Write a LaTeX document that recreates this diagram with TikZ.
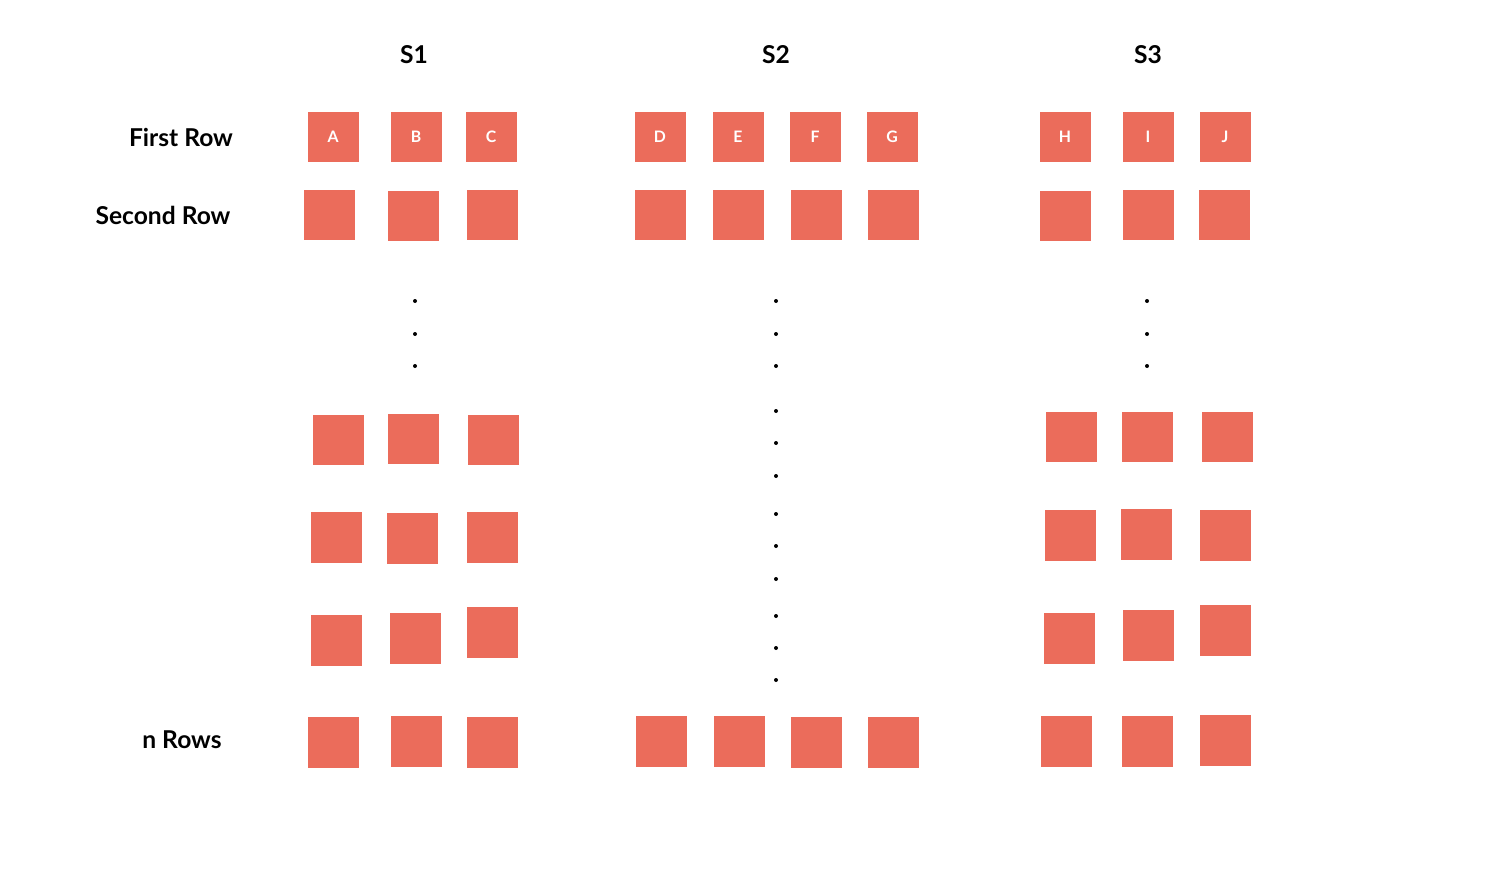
\documentclass[tikz,border=0pt]{standalone}
\usepackage{fontspec}
\setmainfont{Lato}
\usepackage{tikz}
\usepackage{xcolor}
\definecolor{coral}{RGB}{235,108,91}

\begin{document}
\begin{tikzpicture}[x=0.02cm, y=-0.02cm,
    sq/.style={fill=coral, draw=none, minimum size=1.02cm, inner sep=0pt,
               text=white, font=\fontsize{9}{10}\selectfont\bfseries},
    head/.style={font=\fontsize{14}{16}\selectfont\bfseries},
    rowlabel/.style={font=\fontsize{14}{16}\selectfont\bfseries}]
    \useasboundingbox (0,0) rectangle (1496,868);
    % headers
    \node[head] (s1) at (414,55) {S1};
    \node[head] (s2) at (776,55) {S2};
    \node[head] (s3) at (1148,55) {S3};
    % row labels
    \node[rowlabel] (first) at (181,137) {First Row};
    \node[rowlabel] (second) at (163,215) {Second Row};
    \node[rowlabel] (nrows) at (182,740) {n Rows};
    % first row
    \node[sq] (a) at (333,137) {A};
    \node[sq] (b) at (416,137) {B};
    \node[sq] (c) at (491,137) {C};
    \node[sq] (d) at (660,137) {D};
    \node[sq] (e) at (738,137) {E};
    \node[sq] (f) at (815,137) {F};
    \node[sq] (g) at (892,137) {G};
    \node[sq] (h) at (1065,137) {H};
    \node[sq] (i) at (1148,137) {I};
    \node[sq] (j) at (1225,137) {J};
    % second row
    \node[sq] (s1r2a) at (329,215) {};
    \node[sq] (s1r2b) at (413,216) {};
    \node[sq] (s1r2c) at (492,215) {};
    \node[sq] (s2r2a) at (660,215) {};
    \node[sq] (s2r2b) at (738,215) {};
    \node[sq] (s2r2c) at (816,215) {};
    \node[sq] (s2r2d) at (893,215) {};
    \node[sq] (s3r2a) at (1065,216) {};
    \node[sq] (s3r2b) at (1148,215) {};
    \node[sq] (s3r2c) at (1224,215) {};
    % S1 lower rows
    \node[sq] (s1r3a) at (338,440) {};
    \node[sq] (s1r3b) at (413,439) {};
    \node[sq] (s1r3c) at (493,440) {};
    \node[sq] (s1r4a) at (336,537) {};
    \node[sq] (s1r4b) at (412,538) {};
    \node[sq] (s1r4c) at (492,537) {};
    \node[sq] (s1r5a) at (336,640) {};
    \node[sq] (s1r5b) at (415,638) {};
    \node[sq] (s1r5c) at (492,632) {};
    \node[sq] (s1rna) at (333,742) {};
    \node[sq] (s1rnb) at (416,741) {};
    \node[sq] (s1rnc) at (492,742) {};
    % S2 last row
    \node[sq] (s2rna) at (661,741) {};
    \node[sq] (s2rnb) at (739,741) {};
    \node[sq] (s2rnc) at (816,742) {};
    \node[sq] (s2rnd) at (893,742) {};
    % S3 lower rows
    \node[sq] (s3r3a) at (1071,437) {};
    \node[sq] (s3r3b) at (1147,437) {};
    \node[sq] (s3r3c) at (1227,437) {};
    \node[sq] (s3r4a) at (1070,535) {};
    \node[sq] (s3r4b) at (1146,534) {};
    \node[sq] (s3r4c) at (1225,535) {};
    \node[sq] (s3r5a) at (1069,638) {};
    \node[sq] (s3r5b) at (1148,635) {};
    \node[sq] (s3r5c) at (1225,630) {};
    \node[sq] (s3rna) at (1066,741) {};
    \node[sq] (s3rnb) at (1147,741) {};
    \node[sq] (s3rnc) at (1225,740) {};
    % dots
    \foreach \y in {301,334,366} {
        \fill (415,\y) circle (2);
        \fill (1147,\y) circle (2);
    }
    \foreach \y in {301,334,366,411,443,476,514,546,579,616,648,680}
        \fill (776,\y) circle (2);
\end{tikzpicture}
\end{document}
